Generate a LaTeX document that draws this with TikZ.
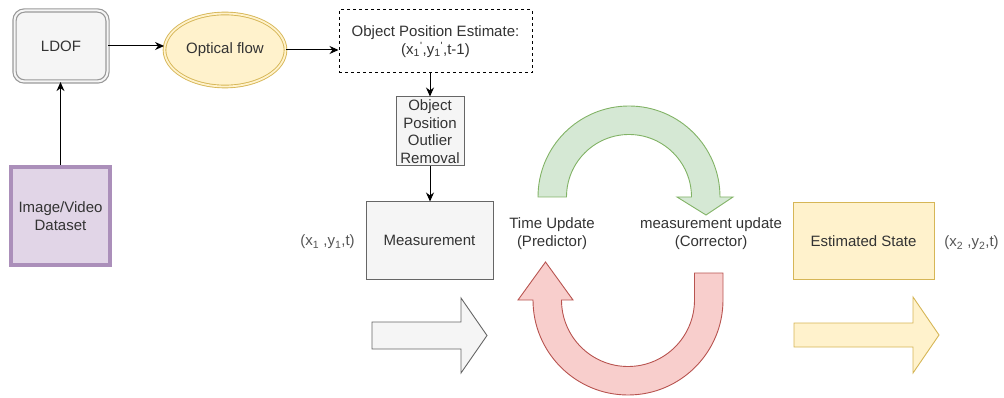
\documentclass[tikz,border=0pt]{standalone}
\usepackage{fontspec}
\setmainfont{Liberation Sans}
\usetikzlibrary{arrows.meta,shapes.geometric}
\definecolor{txt}{HTML}{333333}
\definecolor{lbl}{HTML}{555555}
\definecolor{grayfill}{HTML}{F5F5F5}
\definecolor{graystroke}{HTML}{666666}
\definecolor{yelfill}{HTML}{FFF2CC}
\definecolor{yelstroke}{HTML}{D6B656}
\definecolor{purfill}{HTML}{E1D5E7}
\definecolor{purstroke}{HTML}{AB8FBA}
\definecolor{grnfill}{HTML}{D5E8D4}
\definecolor{grnstroke}{HTML}{82B366}
\definecolor{redfill}{HTML}{F8CECC}
\definecolor{redstroke}{HTML}{B85450}
\tikzset{
  base/.style={font=\fontsize{15}{18}\selectfont, text=txt, inner sep=0pt, align=center},
  graybox/.style={base, draw=graystroke, fill=grayfill, line width=1pt},
  arr/.style={-{Stealth[length=9pt,width=8pt]}, line width=1pt, black},
  lab/.style={base, text=lbl},
}
\begin{document}
\begin{tikzpicture}[x=1pt,y=-1pt]
\useasboundingbox (0,0) rectangle (1004,398);
% nodes
\node[graybox, rounded corners=10pt, draw=gray!80, double=grayfill, double distance=2pt, line width=1.2pt,
      minimum width=93pt, minimum height=71pt] (ldof) at (61,46) {LDOF};
\node[base, ellipse, draw=yelstroke, fill=yelfill, double=yelfill, double distance=1.8pt, line width=0.9pt,
      minimum width=121pt, minimum height=73pt] (flow) at (225,50) {Optical flow};
\node[base, draw=black, dashed, dash pattern=on 3pt off 3pt, fill=white, line width=1pt,
      minimum width=193pt, minimum height=63pt] (est) at (435.5,41.5)
      {Object Position Estimate:\\(x\textsubscript{1}\textsuperscript{\textquotesingle},y\textsubscript{1}\textsuperscript{\textquotesingle},t-1)};
\node[graybox, minimum width=68pt, minimum height=69pt, font=\fontsize{15}{17.7}\selectfont] (outl) at (430,131.5)
      {Object\\Position\\Outlier\\Removal};
\node[graybox, minimum width=127pt, minimum height=77pt] (meas) at (429.5,240.5) {Measurement};
\node[base, draw=purstroke, fill=purfill, line width=4pt, minimum width=99pt, minimum height=98pt] (data) at (60.5,216)
      {Image/Video\\Dataset};
\node[base, draw=yelstroke, fill=yelfill, line width=1pt, minimum width=141pt, minimum height=76pt] (state) at (863.5,241)
      {Estimated State};
\node[lab] (l1) at (327.5,242) {(x\textsubscript{1} ,y\textsubscript{1},t)};
\node[lab] (l2) at (971.5,243) {(x\textsubscript{2} ,y\textsubscript{2},t)};
\node[base] (tu) at (552,234) {Time Update\\(Predictor)};
\node[base] (mu) at (711,234) {measurement update\\(Corrector)};
% connectors
\draw[arr] (ldof.east) -- (flow.west |- ldof.east);
\draw[arr] (flow.east) -- (est.west |- flow.east);
\draw[arr] (outl.north |- est.south) -- (outl.north);
\draw[arr] (outl.south) -- (outl.south |- meas.north);
\draw[arr] (data.north) -- (ldof.south -| data.north);
% block arrows
\draw[draw=graystroke, fill=grayfill, line width=0.9pt, line join=miter]
  (372,322) -- (461,322) -- (461,298) -- (487,335.5) -- (461,373) -- (461,349) -- (372,349) -- cycle;
\draw[draw=yelstroke, fill=yelfill, line width=0.9pt, line join=miter]
  (794,323) -- (913,323) -- (913,297) -- (939,335) -- (913,373) -- (913,347) -- (794,347) -- cycle;
% green curved arrow (top)
\draw[draw=grnstroke, fill=grnfill, line width=0.9pt, line join=miter]
  (538,197) arc[start angle=180, end angle=360, radius=91]
  -- (733,197) -- (706,215) -- (677,197) -- (691.5,197)
  arc[start angle=360, end angle=180, radius=62.5] -- cycle;
% red curved arrow (bottom)
\draw[draw=redstroke, fill=redfill, line width=0.9pt, line join=miter]
  (723,273) -- (723,300) arc[start angle=0, end angle=180, radius=95]
  -- (518,300) -- (545.5,262) -- (573,300) -- (561.5,300)
  arc[start angle=180, end angle=0, radius=66.5] -- (694.5,273) -- cycle;
\end{tikzpicture}
\end{document}
